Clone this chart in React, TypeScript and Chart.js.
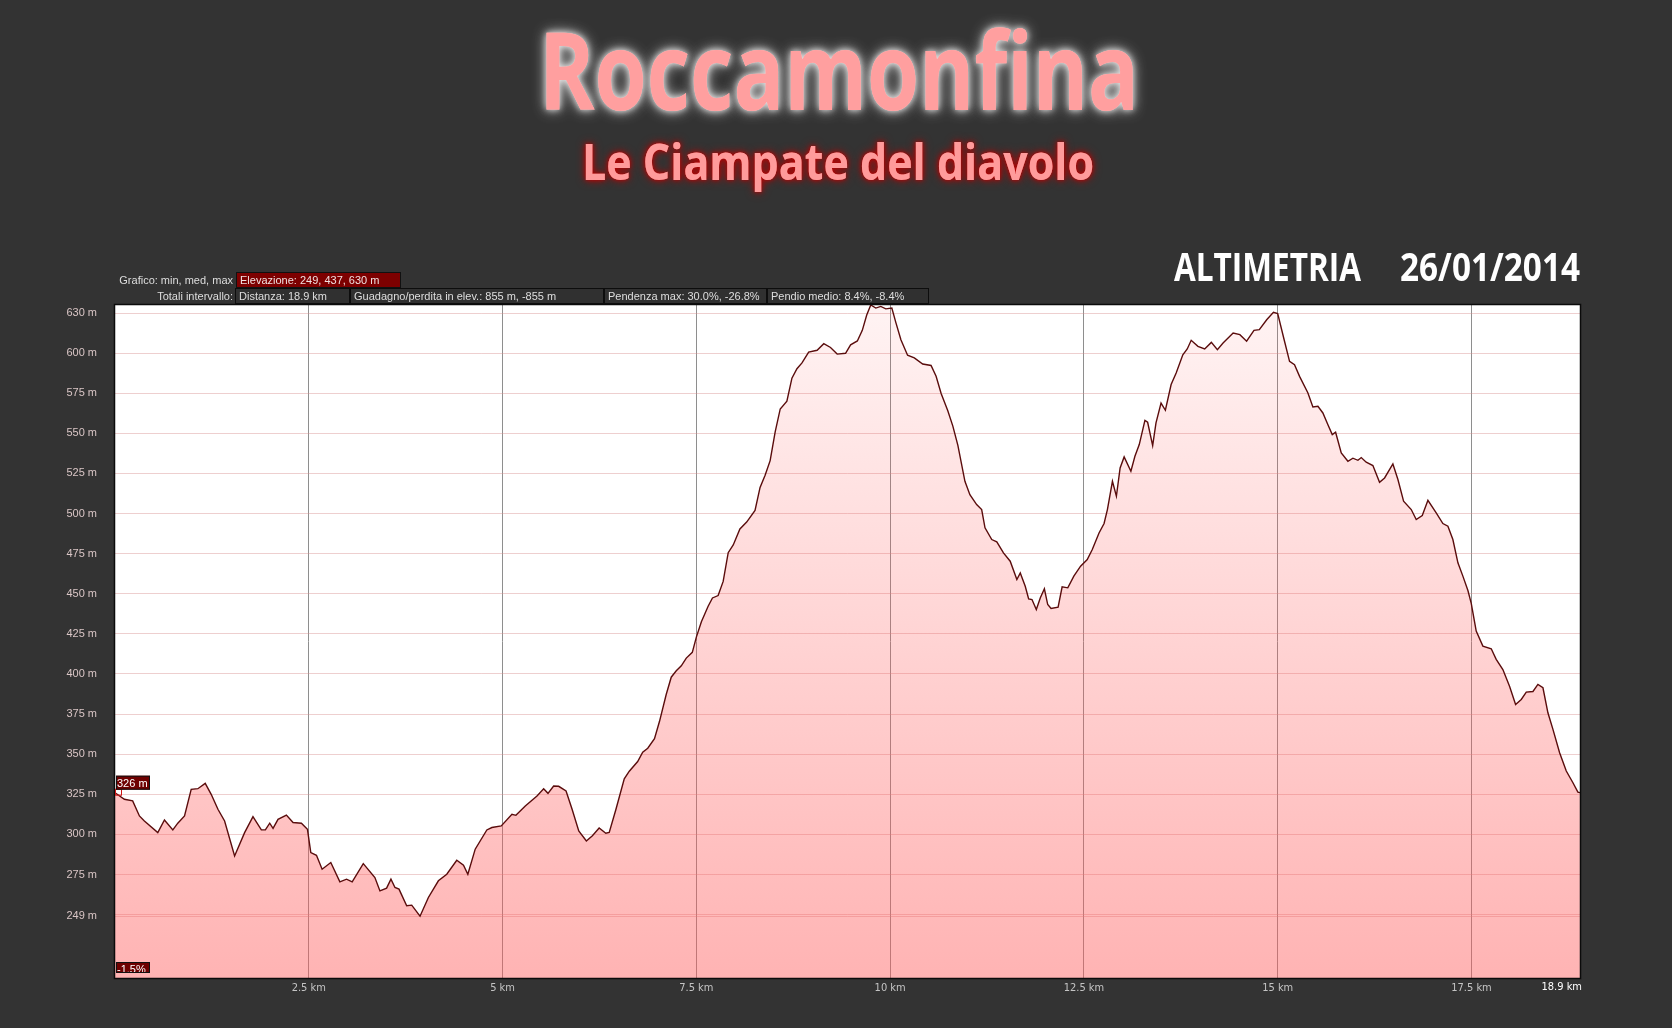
import { useEffect, useRef } from 'react';
import { Chart, registerables } from 'chart.js';

Chart.register(...registerables);

// ---- data (distance in km, elevation in m) ----
const distKm: number[] = [
  0, 0.121, 0.228, 0.315, 0.379, 0.552, 0.638, 0.746, 0.81, 0.897, 0.983, 1.069, 1.164, 1.241, 1.328, 1.414, 1.543, 1.672, 1.78, 1.888, 1.94, 1.996, 2.039, 2.103, 2.211, 2.297, 2.405, 2.483, 2.526, 2.599, 2.672, 2.784, 2.901, 2.987, 3.06, 3.203, 3.353, 3.418, 3.504, 3.56, 3.612, 3.664, 3.763, 3.828, 3.935, 4.043, 4.172, 4.28, 4.409, 4.496, 4.552, 4.647, 4.797, 4.862, 4.983, 5.121, 5.172, 5.293, 5.444, 5.53, 5.586, 5.659, 5.724, 5.819, 5.897, 5.983,
  6.081, 6.159, 6.246, 6.332, 6.376, 6.462, 6.57, 6.635, 6.743, 6.808, 6.873, 6.96, 7.025, 7.111, 7.176, 7.241, 7.306, 7.37, 7.448, 7.5, 7.565, 7.652, 7.708, 7.781, 7.846, 7.911, 7.976, 8.062, 8.149, 8.257, 8.322, 8.387, 8.452, 8.517, 8.582, 8.668, 8.733, 8.798, 8.863, 8.949, 9.058, 9.144, 9.231, 9.317, 9.425, 9.49, 9.577, 9.641, 9.698, 9.75, 9.815, 9.879, 9.944, 10.022, 10.074, 10.139, 10.225, 10.312, 10.42, 10.528, 10.593, 10.658, 10.744, 10.809, 10.874,
  10.965, 11.029, 11.116, 11.181, 11.224, 11.311, 11.376, 11.462, 11.549, 11.635, 11.679, 11.743, 11.787, 11.83, 11.886, 11.938, 11.99, 12.033, 12.076, 12.167, 12.219, 12.292, 12.37, 12.457, 12.543, 12.608, 12.695, 12.76, 12.803, 12.868, 12.919, 12.967, 13.019, 13.106, 13.158, 13.214, 13.287, 13.322, 13.387, 13.43, 13.495, 13.551, 13.625, 13.69, 13.776, 13.833, 13.884, 13.971, 14.058, 14.144, 14.222, 14.295, 14.425, 14.512, 14.599, 14.694, 14.763, 14.858, 14.945, 15.0,
  15.088, 15.153, 15.217, 15.282, 15.39, 15.454, 15.519, 15.583, 15.648, 15.704, 15.747, 15.82, 15.906, 15.97, 16.035, 16.078, 16.142, 16.228, 16.314, 16.379, 16.486, 16.551, 16.624, 16.723, 16.787, 16.865, 16.938, 17.045, 17.131, 17.196, 17.26, 17.325, 17.389, 17.454, 17.497, 17.561, 17.647, 17.755, 17.819, 17.905, 17.991, 18.069, 18.142, 18.207, 18.293, 18.357, 18.422, 18.486, 18.551, 18.637, 18.723, 18.809, 18.873, 18.9,
];

const elevM: number[] = [
  326, 321.9, 320.9, 311.5, 308.4, 301.1, 309, 302.8, 307, 311.5, 328.1, 328.5, 331.8, 325, 315.7, 308.4, 286.6, 301.1, 311.1, 302.8, 302.8, 307, 303.8, 309.4, 312.1, 307.4, 307, 303.2, 288.7, 287, 278.3, 282.5, 270.4, 272.1, 270.4, 281.8, 273.1, 264.8, 266.5, 272.1, 266.9, 265.9, 255.5, 255.9, 249, 260.7, 271.1, 275.2, 283.9, 280.8, 275.2, 290.8, 302.8, 304.3, 305.3, 312.6, 311.9, 317.7, 324, 328.5, 325.6, 330.2, 330, 327.1, 315.7, 302.2,
  295.9, 299.2, 304, 300.7, 301.2, 315.5, 334.6, 339.4, 345.4, 351.3, 353.7, 359.7, 370.5, 387.2, 398, 402, 405.1, 409.9, 413.5, 423, 432.6, 442.2, 447.4, 448.9, 457.7, 475.6, 480.4, 490.4, 494.7, 501.9, 516.3, 523.9, 533, 550.9, 565.2, 570, 584.4, 590.3, 593.9, 600.6, 601.8, 605.9, 603.5, 599.4, 599.9, 605.2, 607.6, 614.2, 623.8, 630, 628.1, 629.1, 627.6, 628.1, 619, 608.3, 598.7, 597, 593.2, 592.3, 585.6, 574.8, 564.1, 554.5, 542.5,
  520.1, 511.8, 505.6, 502.5, 491.1, 483.8, 482.4, 475.5, 470.3, 458.9, 463, 454.7, 446.8, 446.4, 440.2, 447.5, 453.1, 443.3, 440.8, 441.7, 454.3, 453.7, 461, 467.2, 471.3, 477.6, 487.9, 493.8, 502.5, 520.1, 510.8, 528.4, 535.3, 526.4, 535.7, 543, 558.1, 556.9, 542.4, 556.5, 568.9, 564.4, 580.4, 587.6, 599, 602.6, 608, 604.2, 602.6, 606.7, 602.2, 606.3, 612.5, 611.5, 607.4, 614.2, 614.6, 620.8, 625.4, 624.6,
  607.4, 594.9, 592.8, 585.5, 575.2, 566.4, 566.9, 562.7, 555.4, 549.2, 550.7, 537.8, 532.6, 534.5, 533.2, 534.9, 532, 529.9, 519.5, 522.2, 530.9, 521.2, 507.7, 502.5, 496.3, 498.8, 508.3, 500.4, 493.8, 492.1, 483.8, 469.3, 461, 452, 444, 426.7, 417.4, 415.7, 409.1, 402.8, 392.4, 381, 384.1, 388.7, 389.1, 393.5, 391.4, 375.8, 365.5, 350.9, 339.5, 332.2, 326.4, 326,
];

const xTickKm: number[] = [2.5, 5, 7.5, 10, 12.5, 15, 17.5, 18.9];
const yTickM: number[] = [249, 250, 275, 300, 325, 350, 375, 400, 425, 450, 475, 500, 525, 550, 575, 600, 625];
const yTickText: string[] = ['249 m', '', '275 m', '300 m', '325 m', '350 m', '375 m', '400 m', '425 m', '450 m', '475 m', '500 m', '525 m', '550 m', '575 m', '600 m', '630 m'];

const titleText = 'Roccamonfina';
const subtitleText = 'Le Ciampate del diavolo';
const headerLeft = 'ALTIMETRIA';
const headerDate = '26/01/2014';
const infoRow1Label = 'Grafico: min, med, max';
const infoRow1Boxes: string[] = ['Elevazione: 249, 437, 630 m'];
const infoRow2Label = 'Totali intervallo:';
const infoRow2Boxes: string[] = ['Distanza: 18.9 km', 'Guadagno/perdita in elev.: 855 m, -855 m', 'Pendenza max: 30.0%, -26.8%', 'Pendio medio: 8.4%, -8.4%'];
const gradeLabel = '-1.5%';

const TITLE_FONT = "'Open Sans', 'Lato', 'DejaVu Sans', sans-serif";
const SMALL_FONT = "'Liberation Sans', Arial, 'DejaVu Sans', sans-serif";
const NARROW_FONT = "'Liberation Sans Narrow', 'DejaVu Sans Condensed', 'Liberation Sans', Arial, sans-serif";

function drawFit(ctx: CanvasRenderingContext2D, text: string, cx: number, baseline: number, targetW: number, font: string) {
  ctx.font = font;
  const w = ctx.measureText(text).width || 1;
  ctx.save();
  ctx.translate(cx, baseline);
  ctx.scale(targetW / w, 1);
  ctx.textAlign = 'center';
  ctx.textBaseline = 'alphabetic';
  ctx.fillText(text, 0, 0);
  ctx.restore();
}

export default function App() {
  const ref = useRef<HTMLCanvasElement | null>(null);

  useEffect(() => {
    const canvas = ref.current;
    if (!canvas) return;
    const points = distKm.map((x, i) => ({ x, y: elevM[i] }));

    const decor = {
      id: 'decor',
      beforeDraw(chart: any) {
        const { ctx, chartArea: a } = chart;
        ctx.save();
        ctx.fillStyle = '#333333';
        ctx.fillRect(0, 0, chart.width, chart.height);
        ctx.fillStyle = '#ffffff';
        ctx.fillRect(a.left, a.top, a.right - a.left, a.bottom - a.top);
        ctx.restore();
      },
      afterDraw(chart: any) {
        const { ctx, chartArea: a } = chart;
        const xs = chart.scales.x;
        const ys = chart.scales.y;
        ctx.save();

        // plot border
        ctx.strokeStyle = '#0b0b0b';
        ctx.lineWidth = 1.5;
        ctx.strokeRect(a.left - 0.5, a.top - 0.5, a.right - a.left + 1, a.bottom - a.top + 1);

        // start marker + label
        const px = xs.getPixelForValue(distKm[0]);
        const py = ys.getPixelForValue(elevM[0]);
        ctx.strokeStyle = '#d01818';
        ctx.lineWidth = 1;
        ctx.strokeRect(px + 0.5, py - 3.5, 6, 6);
        ctx.fillStyle = '#6e0000';
        ctx.fillRect(a.left + 1, py - 17, 34, 14);
        ctx.strokeStyle = '#111';
        ctx.strokeRect(a.left + 1.5, py - 16.5, 33, 13);
        ctx.fillStyle = '#ffffff';
        ctx.font = `11px ${SMALL_FONT}`;
        ctx.textAlign = 'left';
        ctx.textBaseline = 'alphabetic';
        ctx.fillText(`${Math.round(elevM[0])} m`, a.left + 2, py - 6);

        // grade label at the bottom (clipped)
        ctx.save();
        ctx.beginPath();
        ctx.rect(a.left + 1, a.bottom - 16, 34, 10);
        ctx.clip();
        ctx.fillStyle = '#6e0000';
        ctx.fillRect(a.left + 1, a.bottom - 16, 34, 10);
        ctx.fillStyle = '#ffffff';
        ctx.font = `11px ${SMALL_FONT}`;
        ctx.fillText(gradeLabel, a.left + 2, a.bottom - 5);
        ctx.restore();
        ctx.strokeStyle = '#111';
        ctx.strokeRect(a.left + 1.5, a.bottom - 15.5, 33, 10);

        // last distance label (right aligned to the plot edge)
        ctx.fillStyle = '#ffffff';
        ctx.font = `11px ${NARROW_FONT}`;
        ctx.textAlign = 'right';
        ctx.textBaseline = 'top';
        const last = xTickKm[xTickKm.length - 1];
        ctx.fillText(`${last} km`, xs.getPixelForValue(last) + 2, a.bottom + 4);

        // info boxes
        ctx.font = `11px ${SMALL_FONT}`;
        ctx.textBaseline = 'alphabetic';
        ctx.textAlign = 'right';
        ctx.fillStyle = '#dedede';
        ctx.fillText(infoRow1Label, 233, 284);
        ctx.fillText(infoRow2Label, 233, 300);
        ctx.textAlign = 'left';
        // row 1
        ctx.fillStyle = '#7d0000';
        ctx.fillRect(236, 272, 165, 16);
        ctx.strokeStyle = '#111';
        ctx.lineWidth = 1;
        ctx.strokeRect(236.5, 272.5, 164, 15);
        ctx.fillStyle = '#f0e0e0';
        ctx.fillText(infoRow1Boxes[0], 240, 284);
        // row 2
        const edges = [235, 350, 604, 767, 929];
        for (let i = 0; i < infoRow2Boxes.length; i++) {
          const x0 = edges[i];
          const x1 = edges[i + 1];
          ctx.fillStyle = '#303030';
          ctx.fillRect(x0, 288, x1 - x0, 16);
          ctx.strokeStyle = '#0d0d0d';
          ctx.strokeRect(x0 + 0.5, 288.5, x1 - x0 - 1, 15);
          ctx.fillStyle = '#dedede';
          ctx.fillText(infoRow2Boxes[i], x0 + 4, 300);
        }

        // titles
        ctx.save();
        ctx.fillStyle = '#ff9f9f';
        ctx.shadowColor = 'rgba(235,235,235,0.9)';
        ctx.shadowBlur = 14;
        drawFit(ctx, titleText, 839, 110, 600, `bold 108px ${TITLE_FONT}`);
        ctx.shadowBlur = 6;
        drawFit(ctx, titleText, 839, 110, 600, `bold 108px ${TITLE_FONT}`);
        ctx.restore();

        ctx.save();
        ctx.fillStyle = '#ff9b9b';
        ctx.shadowColor = 'rgba(190,0,0,0.95)';
        ctx.shadowBlur = 10;
        drawFit(ctx, subtitleText, 838, 180, 512, `bold 50px ${TITLE_FONT}`);
        ctx.shadowBlur = 4;
        drawFit(ctx, subtitleText, 838, 180, 512, `bold 50px ${TITLE_FONT}`);
        ctx.restore();

        ctx.fillStyle = '#ffffff';
        drawFit(ctx, headerLeft, 1267.5, 281, 187, `bold 40px ${TITLE_FONT}`);
        drawFit(ctx, headerDate, 1490, 281, 180, `bold 40px ${TITLE_FONT}`);

        ctx.restore();
      },
    };

    const chart = new Chart(canvas, {
      type: 'line',
      data: {
        datasets: [
          {
            data: points,
            borderColor: '#5a0c0c',
            borderWidth: 1.4,
            pointRadius: 0,
            tension: 0,
            fill: 'start',
            backgroundColor: (c: any) => {
              const area = c.chart.chartArea;
              if (!area) return 'rgba(255,90,90,0.3)';
              const g = c.chart.ctx.createLinearGradient(0, area.top, 0, area.bottom);
              g.addColorStop(0, 'rgba(255,90,90,0.07)');
              g.addColorStop(1, 'rgba(255,90,90,0.46)');
              return g;
            },
          },
        ],
      },
      options: {
        responsive: false,
        devicePixelRatio: 1,
        animation: false,
        parsing: false as any,
        layout: { padding: { left: 0, top: 305, right: 92, bottom: 28 } },
        plugins: { legend: { display: false }, tooltip: { enabled: false }, title: { display: false } },
        scales: {
          x: {
            type: 'linear',
            min: 0,
            max: 18.9,
            afterBuildTicks: (s: any) => {
              s.ticks = xTickKm.map((v) => ({ value: v }));
            },
            afterFit: (s: any) => {
              s.height = 22;
            },
            ticks: {
              autoSkip: false,
              maxRotation: 0,
              padding: 4,
              color: '#c4c4c4',
              font: { size: 11, family: NARROW_FONT },
              callback: (v: any) => (v === xTickKm[xTickKm.length - 1] ? '' : `${v} km`),
            },
            grid: {
              drawTicks: false,
              lineWidth: 1,
              color: (c: any) => (c.tick && c.tick.value === xTickKm[xTickKm.length - 1] ? 'rgba(0,0,0,0)' : '#8e8e8e'),
            },
            border: { display: false },
          },
          y: {
            type: 'linear',
            min: 210.5,
            max: 630,
            afterBuildTicks: (s: any) => {
              s.ticks = yTickM.map((v) => ({ value: v }));
            },
            afterFit: (s: any) => {
              s.width = 115;
            },
            ticks: {
              autoSkip: false,
              padding: 18,
              color: '#dac6c6',
              font: { size: 11, family: SMALL_FONT },
              callback: (_v: any, i: number) => yTickText[i],
            },
            grid: {
              drawTicks: false,
              lineWidth: 1,
              color: 'rgba(215,140,140,0.42)',
            },
            border: { display: false },
          },
        },
      },
      plugins: [decor],
    } as any);

    return () => chart.destroy();
  }, []);

  return (
    <div style={{ position: 'fixed', left: 0, top: 0, width: 1672, height: 1028, background: '#333333' }}>
      <canvas ref={ref} width={1672} height={1028} style={{ display: 'block', width: 1672, height: 1028 }} />
    </div>
  );
}
